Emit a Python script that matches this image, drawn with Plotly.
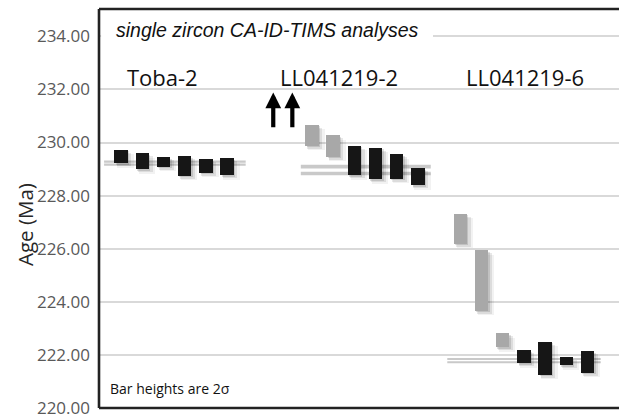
import plotly.graph_objects as go

# ---------------- data (ages in Ma, 2-sigma bar ends) ----------------
group_names = ["Toba-2", "LL041219-2", "LL041219-6"]

toba_hi = [229.72, 229.60, 229.45, 229.49, 229.37, 229.41]
toba_lo = [229.22, 229.00, 229.08, 228.75, 228.87, 228.76]
toba_kind = ["in", "in", "in", "in", "in", "in"]
toba_mean = [229.28, 229.17]

ll2_hi = [230.66, 230.28, 229.88, 229.81, 229.56, 229.03]
ll2_lo = [229.88, 229.46, 228.77, 228.62, 228.64, 228.39]
ll2_kind = ["out", "out", "in", "in", "in", "in"]
ll2_mean = [229.09, 228.83]
ll2_offscale = 2  # analyses older than the plotted range (arrows)

ll6_hi = [227.32, 225.94, 222.81, 222.18, 222.49, 221.91, 222.14]
ll6_lo = [226.19, 223.67, 222.29, 221.68, 221.26, 221.61, 221.32]
ll6_kind = ["out", "out", "out", "in", "in", "in", "in"]
ll6_mean = [221.85, 221.72]

y_ticks = [220, 222, 224, 226, 228, 230, 232, 234]

# ---------------- layout helpers (positions / styles) ----------------
groups = [
    dict(hi=toba_hi, lo=toba_lo, kind=toba_kind, mean=toba_mean, x0=0,
         mean_ext=(-0.8, 5.88), mean_w=2.2, label_x=1.96),
    dict(hi=ll2_hi, lo=ll2_lo, kind=ll2_kind, mean=ll2_mean, x0=9,
         mean_ext=(8.48, 14.61), mean_w=3.6, label_x=10.28),
    dict(hi=ll6_hi, lo=ll6_lo, kind=ll6_kind, mean=ll6_mean, x0=16,
         mean_ext=(15.39, 22.63), mean_w=2.0, label_x=19.04),
]
arrow_x = [7.18, 8.08]
BAR_W = 0.63
COL = {"in": "#161616", "out": "#a8a8a8"}
PX_X = 21.2    # px per slot
PX_Y = 26.55   # px per Ma
PLOT_W = 520
PLOT_H = 399

fig = go.Figure()

shapes = []
# weighted-mean lines (between grid and bars)
for g in groups:
    for m in g["mean"]:
        shapes.append(dict(type="line", xref="x", yref="y", layer="between",
                           x0=g["mean_ext"][0], x1=g["mean_ext"][1], y0=m, y1=m,
                           line=dict(color="#c9c9c9", width=g["mean_w"])))

# shadows
for dx, dy, a, extra in [(4.5, 4.5, 0.05, 3), (3, 3, 0.09, 1.5), (1.5, 1.5, 0.12, 0)]:
    for g in groups:
        xs = [g["x0"] + i + dx / PX_X for i in range(len(g["hi"]))]
        base = [lo - dy / PX_Y for lo in g["lo"]]
        h = [hi - lo for hi, lo in zip(g["hi"], g["lo"])]
        fig.add_trace(go.Bar(x=xs, y=h, base=base, width=BAR_W + extra / PX_X,
                             marker=dict(color=f"rgba(0,0,0,{a})", line=dict(width=0)),
                             hoverinfo="skip", showlegend=False))

# bars
for g in groups:
    xs = [g["x0"] + i for i in range(len(g["hi"]))]
    h = [hi - lo for hi, lo in zip(g["hi"], g["lo"])]
    fig.add_trace(go.Bar(x=xs, y=h, base=g["lo"], width=BAR_W,
                         marker=dict(color=[COL[k] for k in g["kind"]], line=dict(width=0)),
                         showlegend=False))

annotations = []
# arrows for off-scale analyses
for xa in arrow_x[:ll2_offscale]:
    annotations.append(dict(x=xa, y=231.88, ax=xa, ay=230.52, xref="x", yref="y",
                            axref="x", ayref="y", text="", showarrow=True,
                            arrowhead=2, arrowsize=0.75, arrowwidth=4.2,
                            arrowcolor="#000000", standoff=0, startstandoff=0))
# group labels
for g, name in zip(groups, group_names):
    annotations.append(dict(x=g["label_x"], y=232.47, xref="x", yref="y", text=name,
                            showarrow=False, xanchor="center", yanchor="middle",
                            font=dict(family="Open Sans", size=22, color="#111111")))
# title
annotations.append(dict(x=(114 - 99) / PLOT_W, y=(399 + 9 - 30) / PLOT_H, xref="paper",
                        yref="paper", xanchor="left", yanchor="middle",
                        text="<i>single zircon CA-ID-TIMS analyses</i>",
                        showarrow=False,
                        font=dict(family="Liberation Sans", size=19.5, color="#111111")))
# white box behind title (interrupts top gridline)
shapes.append(dict(type="rect", xref="paper", yref="paper", layer="above",
                   x0=0.004, x1=(433 - 99) / PLOT_W,
                   y0=(408 - 44) / PLOT_H, y1=(408 - 18) / PLOT_H,
                   fillcolor="#ffffff", line=dict(width=0)))
# note
annotations.append(dict(x=(108 - 99) / PLOT_W, y=(408 - 388) / PLOT_H, xref="paper",
                        yref="paper", xanchor="left", yanchor="middle",
                        text="Bar heights are 2σ", showarrow=False,
                        font=dict(family="Open Sans", size=14, color="#111111")))
# y axis title
annotations.append(dict(x=(25 - 99) / PLOT_W, y=(408 - 225) / PLOT_H, xref="paper",
                        yref="paper", xanchor="center", yanchor="middle",
                        text="Age (Ma)", textangle=-90, showarrow=False,
                        font=dict(family="Open Sans", size=20.5, color="#262626")))

# frame
for x0, x1, y0, y1 in [(0, 1, 1, 1), (0, 1, 0, 0), (0, 0, 0, 1)]:
    shapes.append(dict(type="line", xref="paper", yref="paper", layer="above",
                       x0=x0, x1=x1, y0=y0, y1=y1,
                       line=dict(color="#222222", width=2.6)))

fig.update_layout(
    width=619, height=420,
    margin=dict(l=99, r=0, t=9, b=12, pad=0),
    paper_bgcolor="#ffffff", plot_bgcolor="#ffffff",
    barmode="overlay", bargap=0,
    showlegend=False,
    annotations=annotations, shapes=shapes,
    xaxis=dict(range=[-1.04, 23.49], showgrid=False, zeroline=False,
               showticklabels=False, ticks="", fixedrange=True),
    yaxis=dict(range=[220, 220 + PLOT_H / PX_Y], tickvals=y_ticks,
               ticktext=[f"{v:.2f}" for v in y_ticks],
               showgrid=True, gridcolor="#d9d9d9", gridwidth=1.5, zeroline=False,
               ticks="", ticklabelstandoff=8,
               tickfont=dict(family="Open Sans", size=17, color="#595959")),
)

fig.write_html("out.html", config={"displayModeBar": False},
               post_script="document.body.style.margin='0';"
                           "document.body.style.overflow='hidden';")
